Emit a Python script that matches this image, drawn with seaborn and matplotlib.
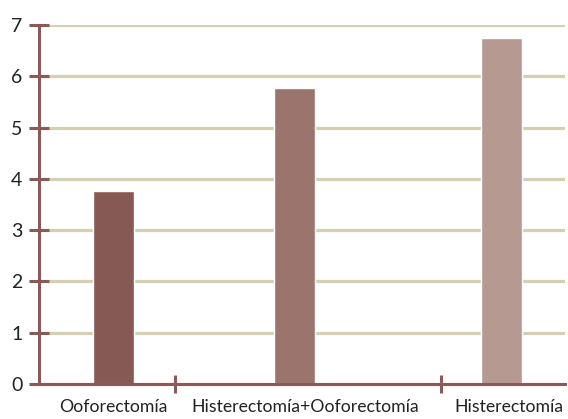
import matplotlib
matplotlib.use("Agg")
import matplotlib.pyplot as plt
import seaborn as sns
import pandas as pd

# Procedures and their values
categories = ["Ooforectomía", "Histerectomía+Ooforectomía", "Histerectomía"]
values = [3.77, 5.77, 6.75]
bar_colors = ["#875955", "#9C746E", "#B69A92"]

# Horizontal layout (axis runs from 0 to 100)
bar_x = [14.2, 48.6, 87.9]
label_x = [14.2, 50.6, 89.4]
separator_x = [25.9, 76.4]
bar_width = 7.8

sns.set_theme(style="white")
plt.rcParams["font.family"] = ["Lato", "DejaVu Sans"]

axis_color = "#8A5A58"
grid_color = "#D6D0B2"

fig = plt.figure(figsize=(5.68, 4.19), dpi=100)
ax = fig.add_axes([39 / 568, 1 - 384 / 419, 526 / 568, (384 - 25) / 419])

df = pd.DataFrame({"x": bar_x, "valor": values, "cat": categories})
# with native_scale the width is relative to the closest spacing of positions
spacing = min(b - a for a, b in zip(bar_x[:-1], bar_x[1:]))
sns.barplot(data=df, x="x", y="valor", hue="cat", palette=bar_colors,
            native_scale=True, width=bar_width / spacing, dodge=False,
            legend=False, saturation=1, ax=ax, zorder=3)

ax.set_xlim(0, 100)
ax.set_ylim(0, 7)
ax.set_yticks(range(0, 8))
ax.yaxis.grid(True, color=grid_color, linewidth=2.3, zorder=0)
ax.set_axisbelow(True)

ax.set_xticks(label_x)
ax.set_xticklabels(categories)
ax.set_xticks(separator_x, minor=True)
ax.tick_params(axis="x", which="major", length=0, pad=11, labelsize=12.7,
               colors="#222222")
ax.tick_params(axis="x", which="minor", direction="inout", length=13,
               width=2.2, color=axis_color, bottom=True)
ax.tick_params(axis="y", which="major", direction="inout", length=14,
               width=2.2, color=axis_color, left=True, pad=5,
               labelsize=14, labelcolor="#222222")

for side in ["top", "right"]:
    ax.spines[side].set_visible(False)
for side in ["left", "bottom"]:
    ax.spines[side].set_color(axis_color)
    ax.spines[side].set_linewidth(2.2)
    ax.spines[side].set_zorder(4)

ax.set_xlabel("")
ax.set_ylabel("")

fig.savefig("out.png", dpi=100)
